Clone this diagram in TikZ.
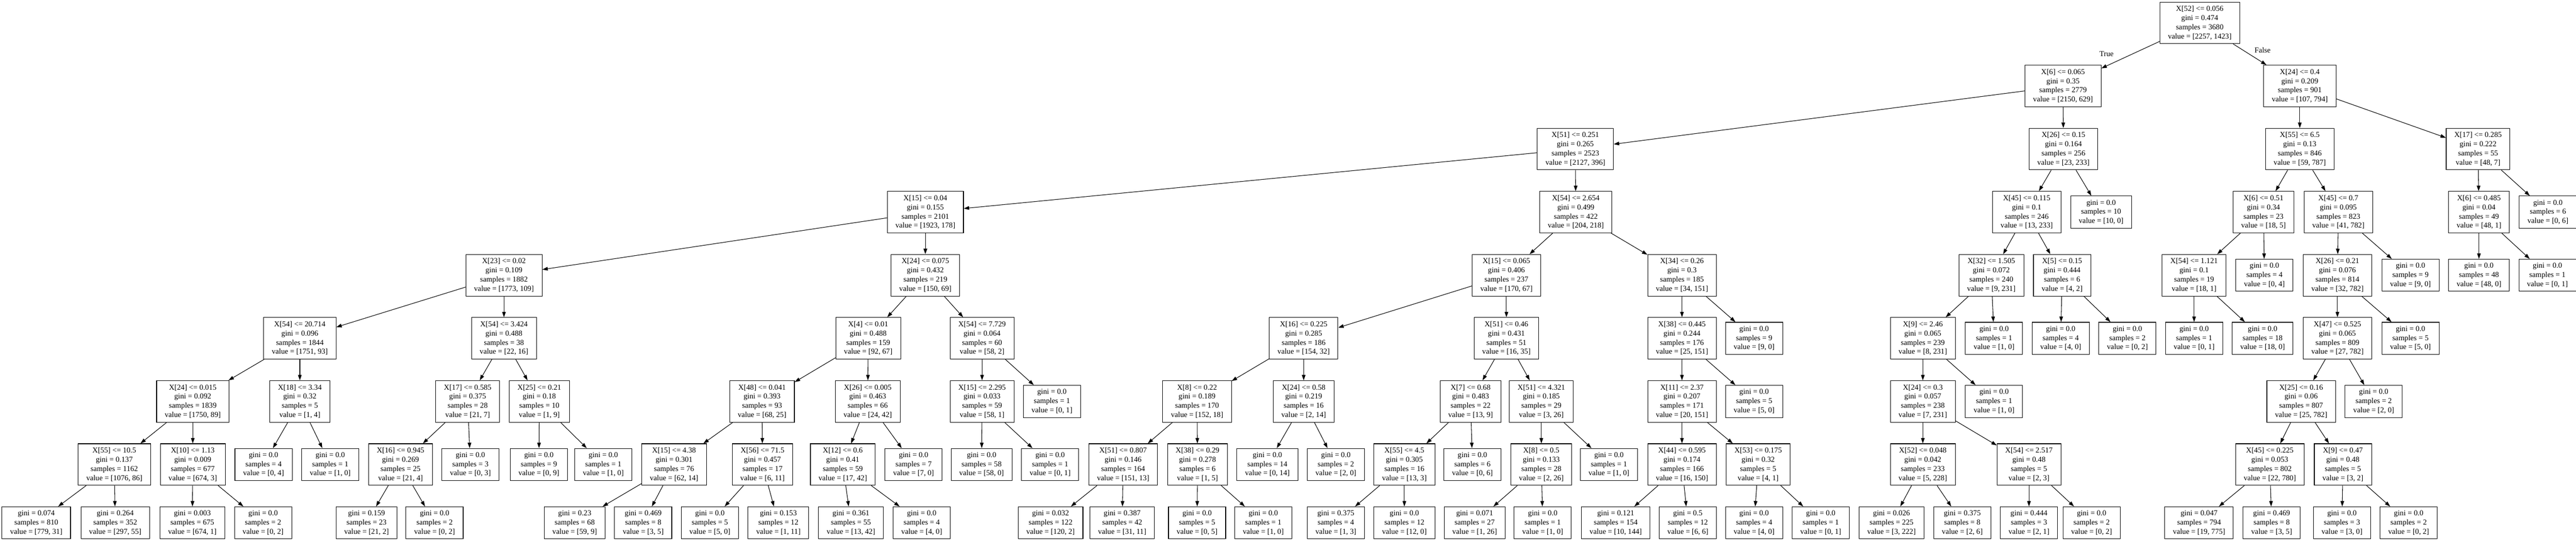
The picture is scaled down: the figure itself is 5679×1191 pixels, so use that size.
\documentclass[tikz,border=0pt]{standalone}
\usepackage{fontspec}
\setmainfont{Liberation Serif}
\usetikzlibrary{arrows.meta}
\tikzset{
  splitnode/.style={draw, line width=1.2pt, rectangle, align=center, inner xsep=18pt, inner ysep=3pt, minimum height=91.7pt},
  leafnode/.style={draw, line width=1.2pt, rectangle, align=center, inner xsep=18pt, inner ysep=3pt, minimum height=71pt},
  treeedge/.style={line width=1.2pt, -{Triangle[length=12pt,width=8pt]}},
}
\begin{document}
\begin{tikzpicture}[x=1pt, y=1pt, every node/.style={font=\fontsize{16.7}{20.2}\selectfont}]
		%%%%% START %%%%%
		\useasboundingbox (0,0) rectangle (5679,-1191);
		
		% level 0 and 1
		\node[splitnode] (n0) at (4849.5,-50.5) {X[52] <= 0.056\\gini = 0.474\\samples = 3680\\value = [2257, 1423]};
		\node[splitnode] (n1) at (4548,-189.7) {X[6] <= 0.065\\gini = 0.35\\samples = 2779\\value = [2150, 629]};
		\node[splitnode] (n2) at (5070,-189.7) {X[24] <= 0.4\\gini = 0.209\\samples = 901\\value = [107, 794]};
		
		% level 2
		\node[splitnode] (n3) at (3473,-328.9) {X[51] <= 0.251\\gini = 0.265\\samples = 2523\\value = [2127, 396]};
		\node[splitnode] (n4) at (4549,-328.9) {X[26] <= 0.15\\gini = 0.164\\samples = 256\\value = [23, 233]};
		\node[splitnode] (n5) at (5070,-328.9) {X[55] <= 6.5\\gini = 0.13\\samples = 846\\value = [59, 787]};
		\node[splitnode] (n6) at (5463,-328.9) {X[17] <= 0.285\\gini = 0.222\\samples = 55\\value = [48, 7]};
		
		% level 3
		\node[splitnode] (n7) at (2040,-468.1) {X[15] <= 0.04\\gini = 0.155\\samples = 2101\\value = [1923, 178]};
		\node[splitnode] (n8) at (3474,-468.1) {X[54] <= 2.654\\gini = 0.499\\samples = 422\\value = [204, 218]};
		\node[splitnode] (n9) at (4468,-468.1) {X[45] <= 0.115\\gini = 0.1\\samples = 246\\value = [13, 233]};
		\node[leafnode] (n10) at (4632,-468.1) {gini = 0.0\\samples = 10\\value = [10, 0]};
		\node[splitnode] (n11) at (4990,-468.1) {X[6] <= 0.51\\gini = 0.34\\samples = 23\\value = [18, 5]};
		\node[splitnode] (n12) at (5155,-468.1) {X[45] <= 0.7\\gini = 0.095\\samples = 823\\value = [41, 782]};
		\node[splitnode] (n13) at (5465,-468.1) {X[6] <= 0.485\\gini = 0.04\\samples = 49\\value = [48, 1]};
		\node[leafnode] (n14) at (5617,-468.1) {gini = 0.0\\samples = 6\\value = [0, 6]};
		
		% level 4
		\node[splitnode] (n15) at (1111,-607.3) {X[23] <= 0.02\\gini = 0.109\\samples = 1882\\value = [1773, 109]};
		\node[splitnode] (n16) at (2040,-607.3) {X[24] <= 0.075\\gini = 0.432\\samples = 219\\value = [150, 69]};
		\node[splitnode] (n17) at (3321,-607.3) {X[15] <= 0.065\\gini = 0.406\\samples = 237\\value = [170, 67]};
		\node[splitnode] (n18) at (3708,-607.3) {X[34] <= 0.26\\gini = 0.3\\samples = 185\\value = [34, 151]};
		\node[splitnode] (n19) at (4390,-607.3) {X[32] <= 1.505\\gini = 0.072\\samples = 240\\value = [9, 231]};
		\node[splitnode] (n20) at (4546,-607.3) {X[5] <= 0.15\\gini = 0.444\\samples = 6\\value = [4, 2]};
		\node[splitnode] (n21) at (4837,-607.3) {X[54] <= 1.121\\gini = 0.1\\samples = 19\\value = [18, 1]};
		\node[leafnode] (n22) at (4992,-607.3) {gini = 0.0\\samples = 4\\value = [0, 4]};
		\node[splitnode] (n23) at (5153,-607.3) {X[26] <= 0.21\\gini = 0.076\\samples = 814\\value = [32, 782]};
		\node[leafnode] (n24) at (5314,-607.3) {gini = 0.0\\samples = 9\\value = [9, 0]};
		\node[leafnode] (n25) at (5465,-607.3) {gini = 0.0\\samples = 48\\value = [48, 0]};
		\node[leafnode] (n26) at (5616,-607.3) {gini = 0.0\\samples = 1\\value = [0, 1]};
		
		% level 5
		\node[splitnode] (n27) at (661,-746.5) {X[54] <= 20.714\\gini = 0.096\\samples = 1844\\value = [1751, 93]};
		\node[splitnode] (n28) at (1111,-746.5) {X[54] <= 3.424\\gini = 0.488\\samples = 38\\value = [22, 16]};
		\node[splitnode] (n29) at (1914,-746.5) {X[4] <= 0.01\\gini = 0.488\\samples = 159\\value = [92, 67]};
		\node[splitnode] (n30) at (2165,-746.5) {X[54] <= 7.729\\gini = 0.064\\samples = 60\\value = [58, 2]};
		\node[splitnode] (n31) at (2874,-746.5) {X[16] <= 0.225\\gini = 0.285\\samples = 186\\value = [154, 32]};
		\node[splitnode] (n32) at (3321,-746.5) {X[51] <= 0.46\\gini = 0.431\\samples = 51\\value = [16, 35]};
		\node[splitnode] (n33) at (3708,-746.5) {X[38] <= 0.445\\gini = 0.244\\samples = 176\\value = [25, 151]};
		\node[leafnode] (n34) at (3867,-746.5) {gini = 0.0\\samples = 9\\value = [9, 0]};
		\node[splitnode] (n35) at (4239,-746.5) {X[9] <= 2.46\\gini = 0.065\\samples = 239\\value = [8, 231]};
		\node[leafnode] (n36) at (4396,-746.5) {gini = 0.0\\samples = 1\\value = [1, 0]};
		\node[leafnode] (n37) at (4543,-746.5) {gini = 0.0\\samples = 4\\value = [4, 0]};
		\node[leafnode] (n38) at (4690,-746.5) {gini = 0.0\\samples = 2\\value = [0, 2]};
		\node[leafnode] (n39) at (4837,-746.5) {gini = 0.0\\samples = 1\\value = [0, 1]};
		\node[leafnode] (n40) at (4988,-746.5) {gini = 0.0\\samples = 18\\value = [18, 0]};
		\node[splitnode] (n41) at (5153,-746.5) {X[47] <= 0.525\\gini = 0.065\\samples = 809\\value = [27, 782]};
		\node[leafnode] (n42) at (5314,-746.5) {gini = 0.0\\samples = 5\\value = [5, 0]};
		
		% level 6
		\node[splitnode] (n43) at (425,-885.7) {X[24] <= 0.015\\gini = 0.092\\samples = 1839\\value = [1750, 89]};
		\node[splitnode] (n44) at (661,-885.7) {X[18] <= 3.34\\gini = 0.32\\samples = 5\\value = [1, 4]};
		\node[splitnode] (n45) at (1031,-885.7) {X[17] <= 0.585\\gini = 0.375\\samples = 28\\value = [21, 7]};
		\node[splitnode] (n46) at (1189,-885.7) {X[25] <= 0.21\\gini = 0.18\\samples = 10\\value = [1, 9]};
		\node[splitnode] (n47) at (1680,-885.7) {X[48] <= 0.041\\gini = 0.393\\samples = 93\\value = [68, 25]};
		\node[splitnode] (n48) at (1913,-885.7) {X[26] <= 0.005\\gini = 0.463\\samples = 66\\value = [24, 42]};
		\node[splitnode] (n49) at (2165,-885.7) {X[15] <= 2.295\\gini = 0.033\\samples = 59\\value = [58, 1]};
		\node[leafnode] (n50) at (2319,-885.7) {gini = 0.0\\samples = 1\\value = [0, 1]};
		\node[splitnode] (n51) at (2639,-885.7) {X[8] <= 0.22\\gini = 0.189\\samples = 170\\value = [152, 18]};
		\node[splitnode] (n52) at (2874,-885.7) {X[24] <= 0.58\\gini = 0.219\\samples = 16\\value = [2, 14]};
		\node[splitnode] (n53) at (3242,-885.7) {X[7] <= 0.68\\gini = 0.483\\samples = 22\\value = [13, 9]};
		\node[splitnode] (n54) at (3398,-885.7) {X[51] <= 4.321\\gini = 0.185\\samples = 29\\value = [3, 26]};
		\node[splitnode] (n55) at (3708,-885.7) {X[11] <= 2.37\\gini = 0.207\\samples = 171\\value = [20, 151]};
		\node[leafnode] (n56) at (3867,-885.7) {gini = 0.0\\samples = 5\\value = [5, 0]};
		\node[splitnode] (n57) at (4239,-885.7) {X[24] <= 0.3\\gini = 0.057\\samples = 238\\value = [7, 231]};
		\node[leafnode] (n58) at (4396,-885.7) {gini = 0.0\\samples = 1\\value = [1, 0]};
		\node[splitnode] (n59) at (5073,-885.7) {X[25] <= 0.16\\gini = 0.06\\samples = 807\\value = [25, 782]};
		\node[leafnode] (n60) at (5233,-885.7) {gini = 0.0\\samples = 2\\value = [2, 0]};
		
		% level 7
		\node[splitnode] (n61) at (252,-1024.9) {X[55] <= 10.5\\gini = 0.137\\samples = 1162\\value = [1076, 86]};
		\node[splitnode] (n62) at (425,-1024.9) {X[10] <= 1.13\\gini = 0.009\\samples = 677\\value = [674, 3]};
		\node[leafnode] (n63) at (581,-1024.9) {gini = 0.0\\samples = 4\\value = [0, 4]};
		\node[leafnode] (n64) at (728,-1024.9) {gini = 0.0\\samples = 1\\value = [1, 0]};
		\node[splitnode] (n65) at (883,-1024.9) {X[16] <= 0.945\\gini = 0.269\\samples = 25\\value = [21, 4]};
		\node[leafnode] (n66) at (1037,-1024.9) {gini = 0.0\\samples = 3\\value = [0, 3]};
		\node[leafnode] (n67) at (1188,-1024.9) {gini = 0.0\\samples = 9\\value = [0, 9]};
		\node[leafnode] (n68) at (1330,-1024.9) {gini = 0.0\\samples = 1\\value = [1, 0]};
		\node[splitnode] (n69) at (1486,-1024.9) {X[15] <= 4.38\\gini = 0.301\\samples = 76\\value = [62, 14]};
		\node[splitnode] (n70) at (1681,-1024.9) {X[56] <= 71.5\\gini = 0.457\\samples = 17\\value = [6, 11]};
		\node[splitnode] (n71) at (1858,-1024.9) {X[12] <= 0.6\\gini = 0.41\\samples = 59\\value = [17, 42]};
		\node[leafnode] (n72) at (2014,-1024.9) {gini = 0.0\\samples = 7\\value = [7, 0]};
		\node[leafnode] (n73) at (2164,-1024.9) {gini = 0.0\\samples = 58\\value = [58, 0]};
		\node[leafnode] (n74) at (2315,-1024.9) {gini = 0.0\\samples = 1\\value = [0, 1]};
		\node[splitnode] (n75) at (2476,-1024.9) {X[51] <= 0.807\\gini = 0.146\\samples = 164\\value = [151, 13]};
		\node[splitnode] (n76) at (2640,-1024.9) {X[38] <= 0.29\\gini = 0.278\\samples = 6\\value = [1, 5]};
		\node[leafnode] (n77) at (2794,-1024.9) {gini = 0.0\\samples = 14\\value = [0, 14]};
		\node[leafnode] (n78) at (2945,-1024.9) {gini = 0.0\\samples = 2\\value = [2, 0]};
		\node[splitnode] (n79) at (3096,-1024.9) {X[55] <= 4.5\\gini = 0.305\\samples = 16\\value = [13, 3]};
		\node[leafnode] (n80) at (3246,-1024.9) {gini = 0.0\\samples = 6\\value = [0, 6]};
		\node[splitnode] (n81) at (3398,-1024.9) {X[8] <= 0.5\\gini = 0.133\\samples = 28\\value = [2, 26]};
		\node[leafnode] (n82) at (3547,-1024.9) {gini = 0.0\\samples = 1\\value = [1, 0]};
		\node[splitnode] (n83) at (3708,-1024.9) {X[44] <= 0.595\\gini = 0.174\\samples = 166\\value = [16, 150]};
		\node[splitnode] (n84) at (3876,-1024.9) {X[53] <= 0.175\\gini = 0.32\\samples = 5\\value = [4, 1]};
		\node[splitnode] (n85) at (4239,-1024.9) {X[52] <= 0.048\\gini = 0.042\\samples = 233\\value = [5, 228]};
		\node[splitnode] (n86) at (4473,-1024.9) {X[54] <= 2.517\\gini = 0.48\\samples = 5\\value = [2, 3]};
		\node[splitnode] (n87) at (5004,-1024.9) {X[45] <= 0.225\\gini = 0.053\\samples = 802\\value = [22, 780]};
		\node[splitnode] (n88) at (5165,-1024.9) {X[9] <= 0.47\\gini = 0.48\\samples = 5\\value = [3, 2]};
		
		% level 8
		\node[leafnode] (n89) at (80,-1153.6) {gini = 0.074\\samples = 810\\value = [779, 31]};
		\node[leafnode] (n90) at (254,-1153.6) {gini = 0.264\\samples = 352\\value = [297, 55]};
		\node[leafnode] (n91) at (424,-1153.6) {gini = 0.003\\samples = 675\\value = [674, 1]};
		\node[leafnode] (n92) at (580,-1153.6) {gini = 0.0\\samples = 2\\value = [0, 2]};
		\node[leafnode] (n93) at (808,-1153.6) {gini = 0.159\\samples = 23\\value = [21, 2]};
		\node[leafnode] (n94) at (958,-1153.6) {gini = 0.0\\samples = 2\\value = [0, 2]};
		\node[leafnode] (n95) at (1267,-1153.6) {gini = 0.23\\samples = 68\\value = [59, 9]};
		\node[leafnode] (n96) at (1418,-1153.6) {gini = 0.469\\samples = 8\\value = [3, 5]};
		\node[leafnode] (n97) at (1565,-1153.6) {gini = 0.0\\samples = 5\\value = [5, 0]};
		\node[leafnode] (n98) at (1716,-1153.6) {gini = 0.153\\samples = 12\\value = [1, 11]};
		\node[leafnode] (n99) at (1876,-1153.6) {gini = 0.361\\samples = 55\\value = [13, 42]};
		\node[leafnode] (n100) at (2032,-1153.6) {gini = 0.0\\samples = 4\\value = [4, 0]};
		\node[leafnode] (n101) at (2316,-1153.6) {gini = 0.032\\samples = 122\\value = [120, 2]};
		\node[leafnode] (n102) at (2474,-1153.6) {gini = 0.387\\samples = 42\\value = [31, 11]};
		\node[leafnode] (n103) at (2639,-1153.6) {gini = 0.0\\samples = 5\\value = [0, 5]};
		\node[leafnode] (n104) at (2785,-1153.6) {gini = 0.0\\samples = 1\\value = [1, 0]};
		\node[leafnode] (n105) at (2945,-1153.6) {gini = 0.375\\samples = 4\\value = [1, 3]};
		\node[leafnode] (n106) at (3096,-1153.6) {gini = 0.0\\samples = 12\\value = [12, 0]};
		\node[leafnode] (n107) at (3251,-1153.6) {gini = 0.071\\samples = 27\\value = [1, 26]};
		\node[leafnode] (n108) at (3401,-1153.6) {gini = 0.0\\samples = 1\\value = [1, 0]};
		\node[leafnode] (n109) at (3562,-1153.6) {gini = 0.121\\samples = 154\\value = [10, 144]};
		\node[leafnode] (n110) at (3721,-1153.6) {gini = 0.5\\samples = 12\\value = [6, 6]};
		\node[leafnode] (n111) at (3867,-1153.6) {gini = 0.0\\samples = 4\\value = [4, 0]};
		\node[leafnode] (n112) at (4014,-1153.6) {gini = 0.0\\samples = 1\\value = [0, 1]};
		\node[leafnode] (n113) at (4170,-1153.6) {gini = 0.026\\samples = 225\\value = [3, 222]};
		\node[leafnode] (n114) at (4326,-1153.6) {gini = 0.375\\samples = 8\\value = [2, 6]};
		\node[leafnode] (n115) at (4473,-1153.6) {gini = 0.444\\samples = 3\\value = [2, 1]};
		\node[leafnode] (n116) at (4611,-1153.6) {gini = 0.0\\samples = 2\\value = [0, 2]};
		\node[leafnode] (n117) at (4848,-1153.6) {gini = 0.047\\samples = 794\\value = [19, 775]};
		\node[leafnode] (n118) at (5008,-1153.6) {gini = 0.469\\samples = 8\\value = [3, 5]};
		\node[leafnode] (n119) at (5163,-1153.6) {gini = 0.0\\samples = 3\\value = [3, 0]};
		\node[leafnode] (n120) at (5310,-1153.6) {gini = 0.0\\samples = 2\\value = [0, 2]};
		
		% edges
		\draw[treeedge] (n0) -- (n1);
		\draw[treeedge] (n0) -- (n2);
		\node (ltrue) at (4644,-119) {True};
		\node (lfalse) at (4988,-111) {False};
		
		\draw[treeedge] (n1) -- (n3); \draw[treeedge] (n1) -- (n4);
		\draw[treeedge] (n2) -- (n5); \draw[treeedge] (n2) -- (n6);
		\draw[treeedge] (n3) -- (n7); \draw[treeedge] (n3) -- (n8);
		\draw[treeedge] (n4) -- (n9); \draw[treeedge] (n4) -- (n10);
		\draw[treeedge] (n5) -- (n11); \draw[treeedge] (n5) -- (n12);
		\draw[treeedge] (n6) -- (n13); \draw[treeedge] (n6) -- (n14);
		\draw[treeedge] (n7) -- (n15); \draw[treeedge] (n7) -- (n16);
		\draw[treeedge] (n8) -- (n17); \draw[treeedge] (n8) -- (n18);
		\draw[treeedge] (n9) -- (n19); \draw[treeedge] (n9) -- (n20);
		\draw[treeedge] (n11) -- (n21); \draw[treeedge] (n11) -- (n22);
		\draw[treeedge] (n12) -- (n23); \draw[treeedge] (n12) -- (n24);
		\draw[treeedge] (n13) -- (n25); \draw[treeedge] (n13) -- (n26);
		\draw[treeedge] (n15) -- (n27); \draw[treeedge] (n15) -- (n28);
		\draw[treeedge] (n16) -- (n29); \draw[treeedge] (n16) -- (n30);
		\draw[treeedge] (n17) -- (n31); \draw[treeedge] (n17) -- (n32);
		\draw[treeedge] (n18) -- (n33); \draw[treeedge] (n18) -- (n34);
		\draw[treeedge] (n19) -- (n35); \draw[treeedge] (n19) -- (n36);
		\draw[treeedge] (n20) -- (n37); \draw[treeedge] (n20) -- (n38);
		\draw[treeedge] (n21) -- (n39); \draw[treeedge] (n21) -- (n40);
		\draw[treeedge] (n23) -- (n41); \draw[treeedge] (n23) -- (n42);
		\draw[treeedge] (n27) -- (n43); \draw[treeedge] (n27) -- (n44);
		\draw[treeedge] (n28) -- (n45); \draw[treeedge] (n28) -- (n46);
		\draw[treeedge] (n29) -- (n47); \draw[treeedge] (n29) -- (n48);
		\draw[treeedge] (n30) -- (n49); \draw[treeedge] (n30) -- (n50);
		\draw[treeedge] (n31) -- (n51); \draw[treeedge] (n31) -- (n52);
		\draw[treeedge] (n32) -- (n53); \draw[treeedge] (n32) -- (n54);
		\draw[treeedge] (n33) -- (n55); \draw[treeedge] (n33) -- (n56);
		\draw[treeedge] (n35) -- (n57); \draw[treeedge] (n35) -- (n58);
		\draw[treeedge] (n41) -- (n59); \draw[treeedge] (n41) -- (n60);
		\draw[treeedge] (n43) -- (n61); \draw[treeedge] (n43) -- (n62);
		\draw[treeedge] (n44) -- (n63); \draw[treeedge] (n44) -- (n64);
		\draw[treeedge] (n45) -- (n65); \draw[treeedge] (n45) -- (n66);
		\draw[treeedge] (n46) -- (n67); \draw[treeedge] (n46) -- (n68);
		\draw[treeedge] (n47) -- (n69); \draw[treeedge] (n47) -- (n70);
		\draw[treeedge] (n48) -- (n71); \draw[treeedge] (n48) -- (n72);
		\draw[treeedge] (n49) -- (n73); \draw[treeedge] (n49) -- (n74);
		\draw[treeedge] (n51) -- (n75); \draw[treeedge] (n51) -- (n76);
		\draw[treeedge] (n52) -- (n77); \draw[treeedge] (n52) -- (n78);
		\draw[treeedge] (n53) -- (n79); \draw[treeedge] (n53) -- (n80);
		\draw[treeedge] (n54) -- (n81); \draw[treeedge] (n54) -- (n82);
		\draw[treeedge] (n55) -- (n83); \draw[treeedge] (n55) -- (n84);
		\draw[treeedge] (n57) -- (n85); \draw[treeedge] (n57) -- (n86);
		\draw[treeedge] (n59) -- (n87); \draw[treeedge] (n59) -- (n88);
		\draw[treeedge] (n61) -- (n89); \draw[treeedge] (n61) -- (n90);
		\draw[treeedge] (n62) -- (n91); \draw[treeedge] (n62) -- (n92);
		\draw[treeedge] (n65) -- (n93); \draw[treeedge] (n65) -- (n94);
		\draw[treeedge] (n69) -- (n95); \draw[treeedge] (n69) -- (n96);
		\draw[treeedge] (n70) -- (n97); \draw[treeedge] (n70) -- (n98);
		\draw[treeedge] (n71) -- (n99); \draw[treeedge] (n71) -- (n100);
		\draw[treeedge] (n75) -- (n101); \draw[treeedge] (n75) -- (n102);
		\draw[treeedge] (n76) -- (n103); \draw[treeedge] (n76) -- (n104);
		\draw[treeedge] (n79) -- (n105); \draw[treeedge] (n79) -- (n106);
		\draw[treeedge] (n81) -- (n107); \draw[treeedge] (n81) -- (n108);
		\draw[treeedge] (n83) -- (n109); \draw[treeedge] (n83) -- (n110);
		\draw[treeedge] (n84) -- (n111); \draw[treeedge] (n84) -- (n112);
		\draw[treeedge] (n85) -- (n113); \draw[treeedge] (n85) -- (n114);
		\draw[treeedge] (n86) -- (n115); \draw[treeedge] (n86) -- (n116);
		\draw[treeedge] (n87) -- (n117); \draw[treeedge] (n87) -- (n118);
		\draw[treeedge] (n88) -- (n119); \draw[treeedge] (n88) -- (n120);
		
		%%%%% END %%%%%
\end{tikzpicture}
\end{document}
